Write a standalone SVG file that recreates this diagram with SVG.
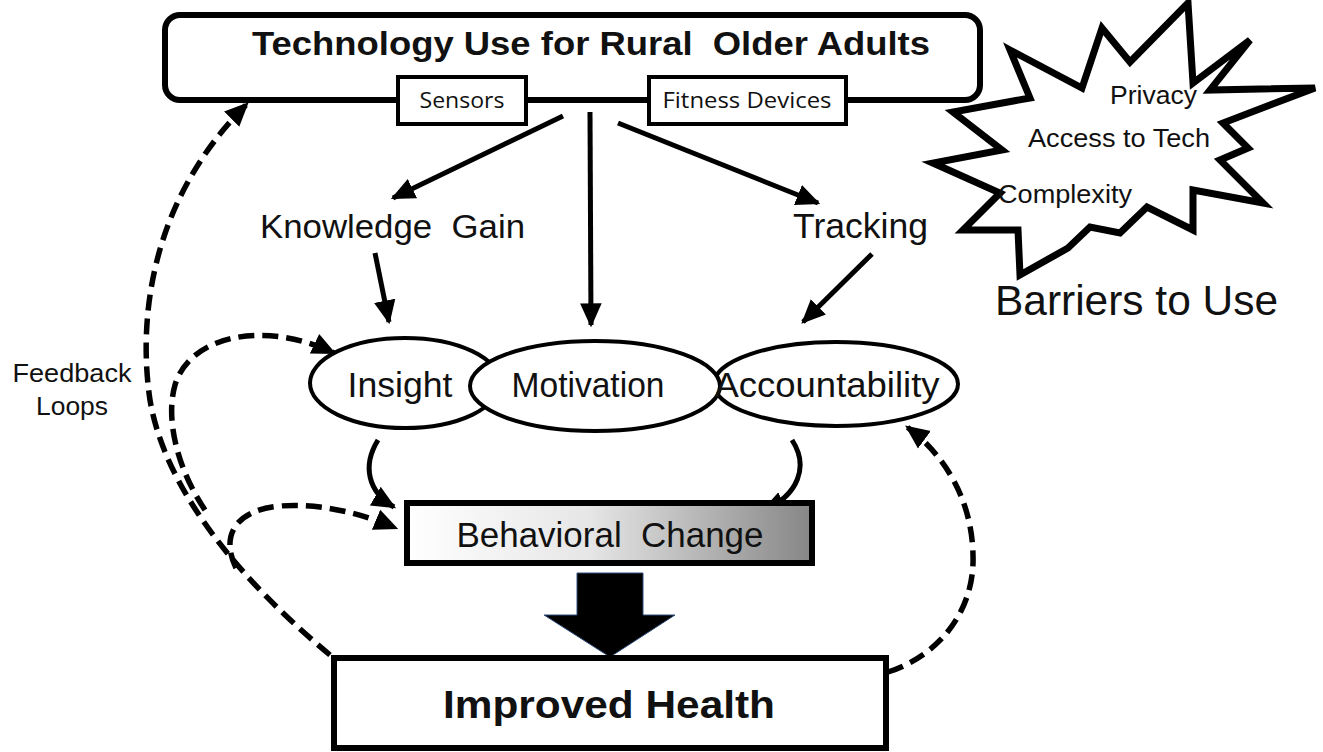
<svg xmlns="http://www.w3.org/2000/svg" width="1323" height="752" viewBox="0 0 1323 752">
<style>
.t{font-family:"Liberation Sans",Arial,sans-serif;fill:#111}
.b{font-weight:bold}
.c{font-family:"Open Sans","Liberation Sans",sans-serif;fill:#111}
.box{fill:#fff;stroke:#000}
.conn{fill:none;stroke:#000;stroke-width:5}
.dash{fill:none;stroke:#000;stroke-width:5.5;stroke-dasharray:16 8}
</style>
<defs>
<marker id="ah" viewBox="0 0 20 20" refX="18" refY="10" markerWidth="24" markerHeight="24" markerUnits="userSpaceOnUse" orient="auto"><path d="M0,1 L20,10 L0,19 z" fill="#000"/></marker>
<linearGradient id="bcg" x1="0" y1="0" x2="1" y2="0"><stop offset="0" stop-color="#ffffff"/><stop offset="0.45" stop-color="#e6e6e6"/><stop offset="1" stop-color="#868686"/></linearGradient>
</defs>
<rect width="1323" height="752" fill="#fff"/>

<g id="tech">
<rect class="box" x="165" y="15" width="815" height="85" rx="15" stroke-width="6"/>
<text class="t b" x="591" y="55" font-size="33" text-anchor="middle" textLength="678" lengthAdjust="spacingAndGlyphs" xml:space="preserve">Technology Use for Rural  Older Adults</text>
</g>
<g id="sensors">
<rect class="box" x="398" y="77" width="128" height="47" stroke-width="4"/>
<text class="c" x="462" y="108" font-size="21" text-anchor="middle" textLength="85" lengthAdjust="spacingAndGlyphs">Sensors</text>
</g>
<g id="fitness">
<rect class="box" x="649" y="77" width="197" height="47" stroke-width="4"/>
<text class="c" x="747" y="108" font-size="21" text-anchor="middle" textLength="169" lengthAdjust="spacingAndGlyphs">Fitness Devices</text>
</g>

<g id="barriers">
<polygon points="1010,50 1082,88 1102,28 1130,62 1188,3 1193,83 1250,40 1210,90 1315,88 1223,123 1248,148 1220,160 1263,203 1193,190 1193,230 1147,207 1120,233 1090,227 1068,248 1020,275 1018,230 963,230 1000,193 933,163 1002,150 953,112 1030,98" fill="#fff" stroke="#000" stroke-width="7" stroke-linejoin="miter"/>
<text class="t" x="1110" y="104" font-size="25" textLength="87" lengthAdjust="spacingAndGlyphs">Privacy</text>
<text class="t" x="1028" y="147" font-size="26" textLength="182" lengthAdjust="spacingAndGlyphs">Access to Tech</text>
<text class="t" x="998" y="203" font-size="26" textLength="134" lengthAdjust="spacingAndGlyphs">Complexity</text>
<text class="t" x="995" y="315" font-size="43" textLength="283" lengthAdjust="spacingAndGlyphs">Barriers to Use</text>
</g>

<g id="knowledge">
<text class="t" x="260" y="238" font-size="34" textLength="265" lengthAdjust="spacingAndGlyphs" xml:space="preserve">Knowledge  Gain</text>
</g>
<g id="tracking">
<text class="t" x="793" y="238" font-size="35" textLength="135" lengthAdjust="spacingAndGlyphs">Tracking</text>
</g>

<g id="feedback-label">
<text class="t" x="72" y="382" font-size="25" text-anchor="middle" textLength="119" lengthAdjust="spacingAndGlyphs">Feedback</text>
<text class="t" x="72" y="415" font-size="25" text-anchor="middle" textLength="72" lengthAdjust="spacingAndGlyphs">Loops</text>
</g>

<g id="connectors">
<path class="conn" d="M563,116 L393,198" marker-end="url(#ah)"/>
<path class="conn" d="M590,112 L591,325" marker-end="url(#ah)"/>
<path class="conn" d="M618,123 L818,203" marker-end="url(#ah)"/>
<path class="conn" d="M375,253 L389,322" marker-end="url(#ah)"/>
<path class="conn" d="M872,254 L803,322" marker-end="url(#ah)"/>
<path class="conn" d="M378,440 C362,466 368,492 394,507" marker-end="url(#ah)"/>
<path class="conn" d="M792,440 C809,466 799,495 763,511" marker-end="url(#ah)"/>
<path class="dash" d="M330,655 C240,580 165,490 150,400 C138,320 150,200 247,104" marker-end="url(#ah)"/>
<path class="dash" d="M205,510 C178,470 165,420 175,385 C190,335 265,320 334,353" marker-end="url(#ah)"/>
<path class="dash" d="M236,568 C220,535 236,510 280,506 C320,503 360,513 396,528" marker-end="url(#ah)"/>
<path class="dash" d="M888,672 C940,655 975,610 973,555 C972,500 945,455 907,427" marker-end="url(#ah)"/>
<polygon points="577,573 643,573 643,615 675,615 610,657 544,615 577,615" fill="#000" stroke="#2f4f7f" stroke-width="1"/>
</g>

<g id="insight">
<ellipse cx="405" cy="383" rx="95" ry="45" fill="#fff" stroke="#000" stroke-width="4"/>
</g>
<g id="accountability">
<ellipse cx="836" cy="384" rx="122" ry="42" fill="#fff" stroke="#000" stroke-width="4"/>
</g>
<g id="motivation">
<ellipse cx="595" cy="386" rx="125" ry="45" fill="#fff" stroke="#000" stroke-width="4"/>
<text class="t" x="588" y="397" font-size="35" text-anchor="middle" textLength="153" lengthAdjust="spacingAndGlyphs">Motivation</text>
</g>
<g id="insight-label">
<text class="t" x="400" y="397" font-size="35" text-anchor="middle" textLength="105" lengthAdjust="spacingAndGlyphs">Insight</text>
</g>
<g id="accountability-label">
<text class="t" x="827" y="397" font-size="35" text-anchor="middle" textLength="225" lengthAdjust="spacingAndGlyphs">Accountability</text>
</g>

<g id="behavioral">
<rect x="407" y="503" width="405" height="60" fill="url(#bcg)" stroke="#000" stroke-width="6"/>
<text class="t" x="610" y="547" font-size="35" text-anchor="middle" textLength="307" lengthAdjust="spacingAndGlyphs" xml:space="preserve">Behavioral  Change</text>
</g>

<g id="health">
<rect class="box" x="334" y="658" width="552" height="90" stroke-width="6"/>
<text class="t b" x="609" y="718" font-size="38" text-anchor="middle" textLength="332" lengthAdjust="spacingAndGlyphs">Improved Health</text>
</g>
</svg>
